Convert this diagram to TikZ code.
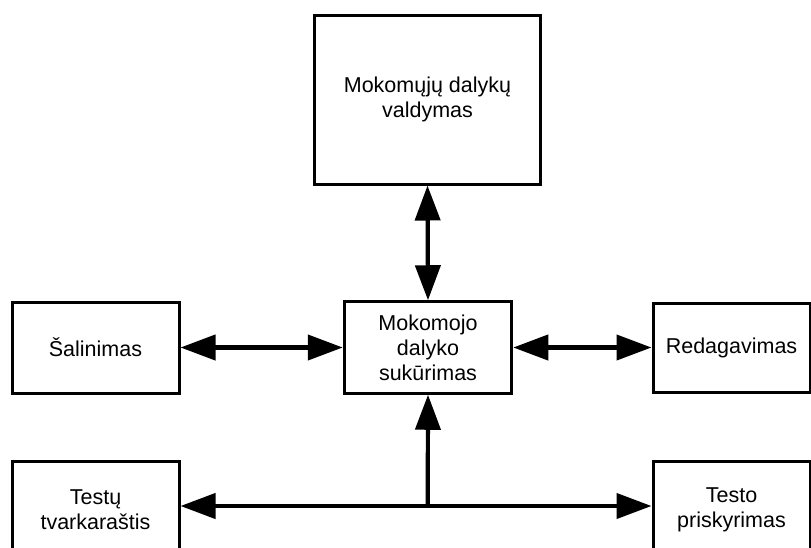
\documentclass[tikz,border=0pt]{standalone}
\usepackage{fontspec}
\setmainfont{Liberation Sans}
\usetikzlibrary{arrows.meta}
\begin{document}
\begin{tikzpicture}[x=1pt,y=-1pt,
  box/.style={draw=black,line width=3pt,fill=white,align=center,inner sep=0pt,
    font=\fontsize{21.5}{25}\selectfont},
  conn/.style={line width=4.2pt,{Triangle[length=35pt,width=25pt]}-{Triangle[length=35pt,width=25pt]}},
  conn1/.style={line width=4.2pt,-{Triangle[length=35pt,width=25pt]}},
  conn0/.style={line width=4.2pt}]
\useasboundingbox (0,0) rectangle (811,547);
\node[box,minimum width=226.5pt,minimum height=169pt] (top) at (427.5,99.5) {Mokomųjų dalykų\\valdymas};
\node[box,minimum width=167.5pt,minimum height=91.5pt] (mid) at (428,347.5) {Mokomojo\\dalyko\\sukūrimas};
\node[box,minimum width=167pt,minimum height=91pt] (sal) at (95.5,347.5) {Šalinimas};
\node[box,minimum width=157pt,minimum height=89pt] (red) at (731.5,347.5) {Redagavimas};
\node[box,minimum width=167pt,minimum height=97pt] (tt) at (95.5,509.5) {Testų\\tvarkaraštis};
\node[box,minimum width=157pt,minimum height=97pt] (tp) at (731.5,509.5) {Testo\\priskyrimas};
\coordinate (j) at (427.7,506);
\draw[conn] (top.south) -- (mid.north);
\draw[conn] (sal.east) -- (mid.west);
\draw[conn] (mid.east) -- (red.west);
\draw[conn1] (j) -- (mid.south);
\draw[conn1] (j) -- (tt.east |- j);
\draw[conn1] (j) -- (tp.west |- j);
\end{tikzpicture}
\end{document}
